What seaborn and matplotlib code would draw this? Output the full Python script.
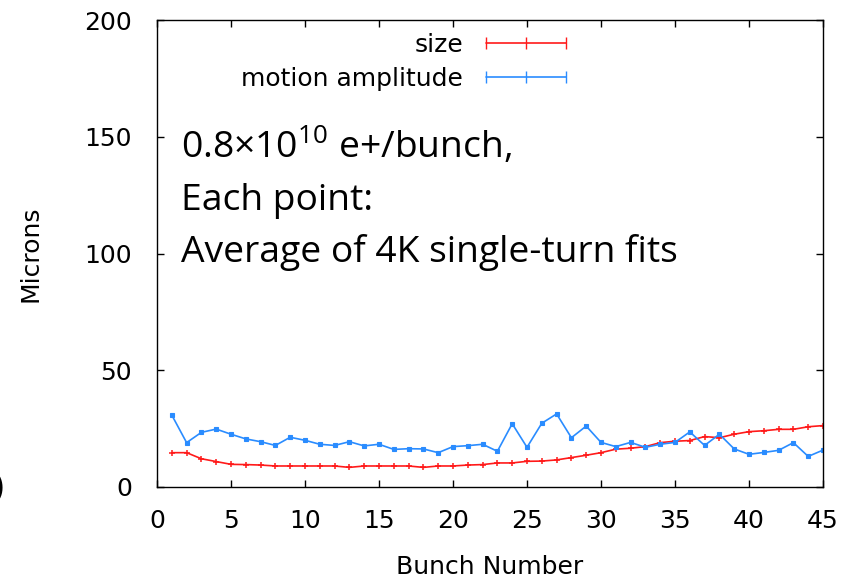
import numpy as np
import pandas as pd
import matplotlib
matplotlib.use("Agg")
import matplotlib.pyplot as plt
from matplotlib.lines import Line2D
import seaborn as sns

bunch = list(range(1, 46))
size_vals = [14.7, 14.7, 12.1, 10.9, 9.7, 9.6, 9.4, 9.0, 9.0, 9.0,
             9.0, 9.0, 8.4, 9.0, 9.0, 9.0, 9.0, 8.4, 9.0, 9.0,
             9.4, 9.6, 10.3, 10.3, 11.0, 11.1, 11.6, 12.6, 13.6, 14.7,
             16.2, 16.6, 17.3, 19.0, 19.6, 19.9, 21.6, 21.1, 22.6, 23.7,
             24.1, 24.7, 24.7, 25.8, 26.3]
motion_vals = [30.8, 19.0, 23.4, 24.8, 22.6, 20.6, 19.4, 17.8, 21.3, 20.0,
               18.3, 17.8, 19.4, 17.6, 18.3, 16.1, 16.4, 16.3, 14.7, 17.3,
               17.7, 18.3, 15.3, 27.1, 17.0, 27.3, 31.3, 21.1, 26.1, 19.1,
               17.3, 19.1, 17.0, 18.3, 19.1, 23.6, 17.8, 22.6, 16.3, 14.0,
               14.8, 15.7, 19.0, 13.1, 15.8]
series_labels = ["size", "motion amplitude"]
x_ticks = [0, 5, 10, 15, 20, 25, 30, 35, 40, 45]
y_ticks = [0, 50, 100, 150, 200]
note_lines = [r"0.8×10$^{10}$ e+/bunch,", "Each point:", "Average of 4K single-turn fits"]

RED = "#ff1a1a"
BLUE = "#2a8cff"

sns.set_style("ticks")
plt.rcParams["font.family"] = ["DejaVu Sans"]
plt.rcParams["text.color"] = "black"
plt.rcParams["axes.labelcolor"] = "black"
plt.rcParams["mathtext.fontset"] = "custom"
plt.rcParams["mathtext.rm"] = "Open Sans"

df = pd.DataFrame({
    "bunch": bunch * 2,
    "value": size_vals + motion_vals,
    "series": [series_labels[0]] * len(bunch) + [series_labels[1]] * len(bunch),
})

fig = plt.figure(figsize=(8.52, 5.83), dpi=100)
ax = fig.add_axes([157 / 852, 1 - 487 / 583, 666 / 852, 467 / 583])

sns.lineplot(data=df[df.series == series_labels[0]], x="bunch", y="value",
             color=RED, marker="+", markersize=5, markeredgewidth=1.1,
             markeredgecolor=RED, linewidth=1.2, ax=ax, legend=False)
sns.lineplot(data=df[df.series == series_labels[1]], x="bunch", y="value",
             color=BLUE, marker="s", markersize=3.2, markeredgewidth=0.8,
             markeredgecolor=BLUE, linewidth=1.2, ax=ax, legend=False)

ax.set_xlim(0, 45)
ax.set_ylim(0, 200)
ax.set_xticks(x_ticks)
ax.set_yticks(y_ticks)
ax.tick_params(direction="in", length=5, width=1, top=True, right=True,
               labelsize=18, colors="black")
ax.tick_params(axis="y", pad=18)
ax.tick_params(axis="x", pad=16)
for s in ax.spines.values():
    s.set_visible(True)
    s.set_linewidth(1.0)
    s.set_color("black")

ax.set_xlabel("Bunch Number", fontsize=18)
ax.set_ylabel("Microns", fontsize=18)
ax.xaxis.set_label_coords(0.5, -0.145)
ax.yaxis.set_label_coords(-0.172, 0.5)

handles = [Line2D([], [], color=RED, marker="|", markersize=8, linewidth=1.2),
           Line2D([], [], color=BLUE, marker="|", markersize=8, linewidth=1.2)]
ax.legend(handles, series_labels, loc="upper right",
          bbox_to_anchor=(0.625, 0.972), frameon=False, markerfirst=False,
          numpoints=3, handlelength=3.8, handletextpad=0.6, borderpad=0,
          borderaxespad=0, labelspacing=0.38, fontsize=18)

ys = [158, 210, 262]
for line, ypx in zip(note_lines, ys):
    fig.text(181 / 852, 1 - ypx / 583, line, fontsize=26.8, family="Open Sans",
             ha="left", va="baseline", color="black")

fig.text(-0.008, 1 - 497 / 583, ")", fontsize=24, family="Open Sans",
         ha="left", va="baseline", color="black")

fig.savefig("out.png", dpi=100)
